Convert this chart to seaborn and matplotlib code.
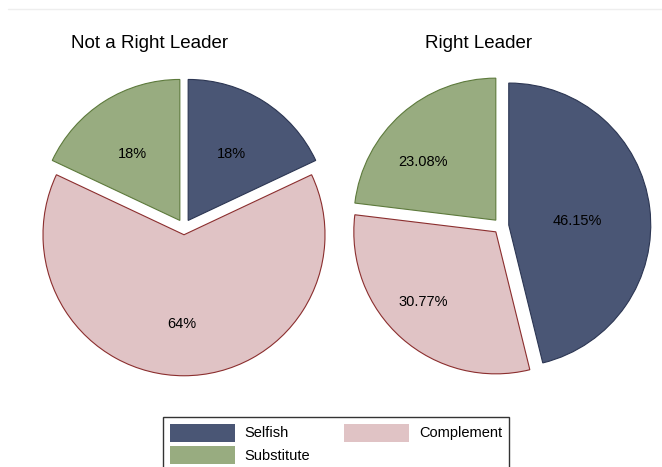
import numpy as np
import pandas as pd
import seaborn as sns
import matplotlib.pyplot as plt
from matplotlib.patches import Patch
from matplotlib.lines import Line2D

# Data (shares in percent, clockwise from 12 o'clock)
categories = ['Selfish', 'Complement', 'Substitute']
not_right_leader = [18, 64, 18]
right_leader = [46.15, 30.77, 23.08]
panel_titles = ['Not a Right Leader', 'Right Leader']

fill_colors = ['#4a5675', '#e0c3c5', '#98ac80']
edge_colors = ['#2c3653', '#8b2e2e', '#5d7a3c']

sns.set_theme(style='white')
plt.rcParams['font.family'] = ['Liberation Sans', 'DejaVu Sans']
plt.rcParams['text.color'] = 'black'

W, H = 662, 467
fig = plt.figure(figsize=(W / 100, H / 100), dpi=100)


def axes_at(cx, cy, r, lim=1.1):
    # place an axes so that a unit pie sits at pixel centre (cx, cy) with radius r
    half = r * lim
    ax = fig.add_axes([(cx - half) / W, 1 - (cy + half) / H, 2 * half / W, 2 * half / H])
    ax.set_aspect('equal')
    ax.axis('off')
    return ax


def draw_pie(ax, values, fmt, r_px, label_shift):
    wedges, texts, autotexts = ax.pie(
        values, colors=fill_colors, startangle=90, counterclock=False,
        explode=[0.055] * len(values), autopct=fmt, pctdistance=0.6,
        wedgeprops=dict(linewidth=0.8), textprops=dict(fontsize=10.5, color='black'),
        radius=1.0, frame=False)
    for w, ec in zip(wedges, edge_colors):
        w.set_edgecolor(ec)
    # nudge the percent labels (pixels -> data units)
    dx, dy = label_shift
    for t in autotexts:
        x, y = t.get_position()
        t.set_position((x + dx / r_px, y - dy / r_px))
    ax.set_xlim(-1.1, 1.1)
    ax.set_ylim(-1.1, 1.1)


ax1 = axes_at(184, 227, 141)
draw_pie(ax1, not_right_leader, '%.0f%%', 141, (-2, 5))
ax2 = axes_at(501, 226, 142)
draw_pie(ax2, right_leader, '%.2f%%', 142, (-16, 6))

fig.text(150 / W, 1 - 43 / H, panel_titles[0], ha='center', va='center', fontsize=13.5)
fig.text(479 / W, 1 - 43 / H, panel_titles[1], ha='center', va='center', fontsize=13.5)

# faint frame line at the top
fig.add_artist(Line2D([8 / W, 1], [1 - 9 / H, 1 - 9 / H], color='#eeeeee', lw=1))

order = [0, 2, 1]
handles = [Patch(facecolor=fill_colors[i], edgecolor='none', label=categories[i]) for i in order]
leg = fig.legend(handles=handles, ncol=2, loc='upper left',
                 bbox_to_anchor=(163 / W, 1 - 417 / H), frameon=True, fancybox=False,
                 edgecolor='black', fontsize=10.5, handlelength=4.5, handleheight=1.55,
                 handletextpad=0.65, columnspacing=2.3, borderpad=0.45, labelspacing=0.3,
                 borderaxespad=0)
leg.get_frame().set_linewidth(1.0)

fig.savefig('out.png', dpi=100)
